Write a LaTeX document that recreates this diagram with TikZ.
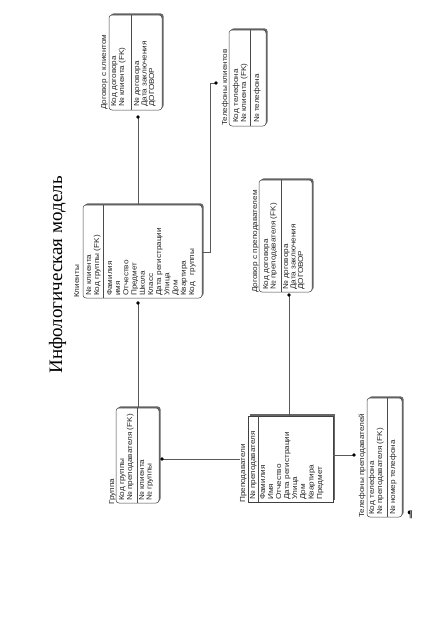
\documentclass[tikz,border=0pt]{standalone}
\usepackage{fontspec}
\newfontfamily\erf[FakeStretch=1.12]{Liberation Sans}
\newfontfamily\titf{Liberation Serif}
\begin{document}
\begin{tikzpicture}[x=1pt,y=-1pt,
  ent/.style={draw=black!75, line width=0.5pt, fill=white, rounded corners=3pt,
    preaction={fill=black!60, transform canvas={xshift=1.6pt,yshift=1.6pt}}},
  indep/.style={ent, rounded corners=0pt},
  fld/.style={rotate=90, anchor=base west, inner sep=0pt, font=\erf\fontsize{7.3}{8}\selectfont, text=black!85},
  ttl/.style={fld},
  div/.style={draw=black!70, line width=0.5pt},
  con/.style={draw=black!65, line width=0.5pt},
  dot/.style={fill=black}]
\useasboundingbox (0,0) rectangle (445,641);
\fill[white] (0,0) rectangle (445,641);

% title
\node[rotate=90, anchor=base, inner sep=0pt, font=\titf\fontsize{19}{21}\selectfont] (title) at (62,275) {Инфологическая модель};

% ---------- boxes
\node[ent, minimum width=119pt, minimum height=93pt] (kl) at (142.5,251.5) {};
\node[ent, minimum width=53pt, minimum height=95pt] (dk) at (135.5,62.5) {};
\node[ent, minimum width=37pt, minimum height=96pt] (tk) at (247.5,78) {};
\node[ent, minimum width=53pt, minimum height=112pt] (dp) at (285.5,236) {};
\node[ent, minimum width=43pt, minimum height=95pt] (gr) at (137.5,455.5) {};
\node[indep, minimum width=85pt, minimum height=86pt] (pr) at (290.5,459) {};
\node[ent, minimum width=35pt, minimum height=119pt] (tp) at (384.5,457.5) {};

% dividers
\draw[div] (103,0 |- kl.north) -- (103,0 |- kl.south);
\draw[div] (131,0 |- dk.north) -- (131,0 |- dk.south);
\draw[div] (250,0 |- tk.north) -- (250,0 |- tk.south);
\draw[div] (281,0 |- dp.north) -- (281,0 |- dp.south);
\draw[div] (137,0 |- gr.north) -- (137,0 |- gr.south);
\draw[div] (258,0 |- pr.north) -- (258,0 |- pr.south);
\draw[div] (387,0 |- tp.north) -- (387,0 |- tp.south);

% ---------- Клиенты
\node[ttl] (klt) at (79,298) {Клиенты};
\node[fld] (kl1) at (91,296) {№ клиента};
\node[fld] (kl2) at (99,296) {Код группы (FK)};
\node[fld] (kl3) at (112,296) {Фамилия};
\node[fld] (kl4) at (120.2,296) {имя};
\node[fld] (kl5) at (128.4,296) {Отчество};
\node[fld] (kl6) at (136.6,296) {Предмет};
\node[fld] (kl7) at (144.8,296) {Школа};
\node[fld] (kl8) at (153,296) {Класс};
\node[fld] (kl9) at (161.2,296) {Дата регистрации};
\node[fld] (kl10) at (169.4,296) {Улица};
\node[fld] (kl11) at (177.6,296) {Дом};
\node[fld] (kl12) at (185.8,296) {Квартира};
\node[fld] (kl13) at (194,296) {Код\ \ \ группы};

% ---------- Договор с клиентом
\node[ttl] (dkt) at (106,110) {Договор с клиентом};
\node[fld] (dk1) at (116,107) {Код договора};
\node[fld] (dk2) at (124,107) {№ клиента (FK)};
\node[fld] (dk3) at (139,107) {№ договора};
\node[fld] (dk4) at (146.5,107) {Дата заключения};
\node[fld] (dk5) at (154,107) {ДОГОВОР};

% ---------- Телефоны клиентов
\node[ttl] (tkt) at (227,126) {Телефоны клиентов};
\node[fld] (tk1) at (238,123) {Код телефона};
\node[fld] (tk2) at (246,123) {№ клиента (FK)};
\node[fld] (tk3) at (259,123) {№ телефона};

% ---------- Договор с преподавателем
\node[ttl] (dpt) at (257,293) {Договор с преподавателем};
\node[fld] (dp1) at (268,290) {Код договора};
\node[fld] (dp2) at (275.5,290) {№ преподавателя (FK)};
\node[fld] (dp3) at (288,290) {№ договора};
\node[fld] (dp4) at (295.5,290) {Дата заключения};
\node[fld] (dp5) at (303,290) {ДОГОВОР};

% ---------- Группа
\node[ttl] (grt) at (114,505) {Группа};
\node[fld] (gr1) at (124,501) {Код группы};
\node[fld] (gr2) at (132,501) {№ преподавателя (FK)};
\node[fld] (gr3) at (144,501) {№ клиента};
\node[fld] (gr4) at (151.5,501) {№ группы};

% ---------- Преподаватели
\node[ttl] (prt) at (245,503) {Преподаватели};
\node[fld] (pr1) at (255,500) {№ преподавателя};
\node[fld] (pr2) at (265,500) {Фамилия};
\node[fld] (pr3) at (273,500) {Имя};
\node[fld] (pr4) at (281,500) {Отчество};
\node[fld] (pr5) at (289,500) {Дата регистрации};
\node[fld] (pr6) at (297,500) {Улица};
\node[fld] (pr7) at (305,500) {Дом};
\node[fld] (pr8) at (313.5,500) {Квартира};
\node[fld] (pr9) at (322,500) {Предмет};

% ---------- Телефоны преподавателей
\node[ttl] (tpt) at (364,518) {Телефоны преподавателей};
\node[fld] (tp1) at (374,515) {Код телефона};
\node[fld] (tp2) at (382,515) {№ преподавателя (FK)};
\node[fld] (tp3) at (395,515) {№ номер телефона};

% ---------- connectors
\coordinate (d1) at (138,117);
\draw[con] (d1 |- kl.north) -- (d1);
\fill[dot] (d1) circle (1.9pt);

\coordinate (d2) at (216,83);
\coordinate (b2) at (210,252);
\draw[con] (b2 -| kl.east) -- (b2) -- (b2 |- d2) -- (d2);
\fill[dot] (d2) circle (1.9pt);

\coordinate (d3) at (138,303);
\draw[con] (d3) -- (d3 |- gr.north);
\fill[dot] (d3) circle (1.9pt);

\coordinate (d4) at (162,459);
\draw[con] (d4) -- ([xshift=-8pt]d4 -| pr.west);
\fill[dot] (d4) circle (1.9pt);

\coordinate (d5) at (289,295);
\draw[con] (d5 |- pr.north) -- (d5);
\fill[dot] (d5) circle (1.9pt);

\coordinate (d6) at (354,455);
\draw[con] (d6 -| pr.east) -- (d6);
\fill[dot] (d6) circle (1.9pt);

% pilcrow
\node[inner sep=0pt, font=\titf\bfseries\fontsize{10}{10}\selectfont] (pil) at (410,515) {¶};
\end{tikzpicture}
\end{document}
